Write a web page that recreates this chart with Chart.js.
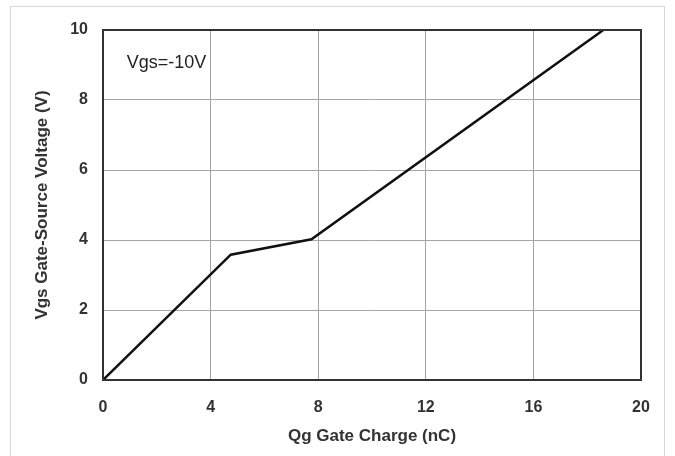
<!DOCTYPE html>
<html>
<head>
<meta charset="utf-8">
<script src="https://cdn.jsdelivr.net/npm/chart.js@4/dist/chart.umd.min.js"></script>
<style>
  html, body { margin: 0; padding: 0; background: #fff; }
  #wrap { position: relative; width: 675px; height: 456px; }
  #frame { position: absolute; left: 10px; top: 6px; width: 655px; height: 460px; border: 1px solid #d8d8d8; box-sizing: border-box; }
  canvas { position: absolute; left: 0; top: 0; }
</style>
</head>
<body>
<div id="wrap">
  <div id="frame"></div>
  <canvas id="chartLine" width="675" height="456"></canvas>
</div>
<script>
// gate charge curve
const chargeNc = [0, 4.75, 7.75, 18.6];
const voltageV = [0, 3.58, 4.02, 10];
const xTicks = [0, 4, 8, 12, 16, 20];
const yTicks = [0, 2, 4, 6, 8, 10];
const noteText = "Vgs=-10V";

const points = chargeNc.map((x, i) => ({ x: x, y: voltageV[i] }));

// frame around the plot area and the text note
const framePlugin = {
  id: "framePlugin",
  afterDatasetsDraw(chart) {
    const { ctx, chartArea: a, scales } = chart;
    ctx.save();
    ctx.strokeStyle = "#333";
    ctx.lineWidth = 2;
    ctx.strokeRect(a.left, a.top, a.right - a.left, a.bottom - a.top);
    ctx.fillStyle = "#222";
    ctx.font = "18px 'Liberation Sans', Arial, sans-serif";
    ctx.textBaseline = "middle";
    ctx.fillText(noteText, scales.x.getPixelForValue(0.88), scales.y.getPixelForValue(9.05));
    ctx.restore();
  }
};

const tickFont = { family: "'Liberation Sans', Arial, sans-serif", size: 16, weight: "bold" };
const titleFont = { family: "'Liberation Sans', Arial, sans-serif", size: 17, weight: "bold" };

const configLineChart = {
  type: "scatter",
  data: {
    datasets: [
      {
        data: points,
        showLine: true,
        borderColor: "#111",
        borderWidth: 2.5,
        pointRadius: 0,
        tension: 0,
      },
    ],
  },
  options: {
    responsive: false,
    animation: false,
    layout: { padding: { top: 30, right: 34, left: 32, bottom: 0 } },
    plugins: { legend: { display: false }, tooltip: { enabled: false } },
    scales: {
      x: {
        type: "linear",
        min: 0,
        max: 20,
        afterBuildTicks: (s) => { s.ticks = xTicks.map((v) => ({ value: v })); },
        afterFit: (s) => { s.height = 76; },
        grid: { color: "#a6a6a6", lineWidth: 1, drawTicks: false },
        border: { color: "#555", width: 1 },
        ticks: { font: tickFont, color: "#333", padding: 18 },
        title: { display: true, text: "Qg Gate Charge (nC)", font: titleFont, color: "#333", padding: { top: 4, bottom: 9 } },
      },
      y: {
        type: "linear",
        min: 0,
        max: 10,
        afterBuildTicks: (s) => { s.ticks = yTicks.map((v) => ({ value: v })); },
        afterFit: (s) => { s.width = 71; },
        grid: { color: "#a6a6a6", lineWidth: 1, drawTicks: false },
        border: { color: "#555", width: 1 },
        ticks: { font: tickFont, color: "#333", padding: 15 },
        title: { display: true, text: "Vgs Gate-Source Voltage (V)", font: titleFont, color: "#333", padding: { top: 0, bottom: 0 } },
      },
    },
  },
  plugins: [framePlugin],
};

var chartLine = new Chart(document.getElementById("chartLine"), configLineChart);
</script>
</body>
</html>
